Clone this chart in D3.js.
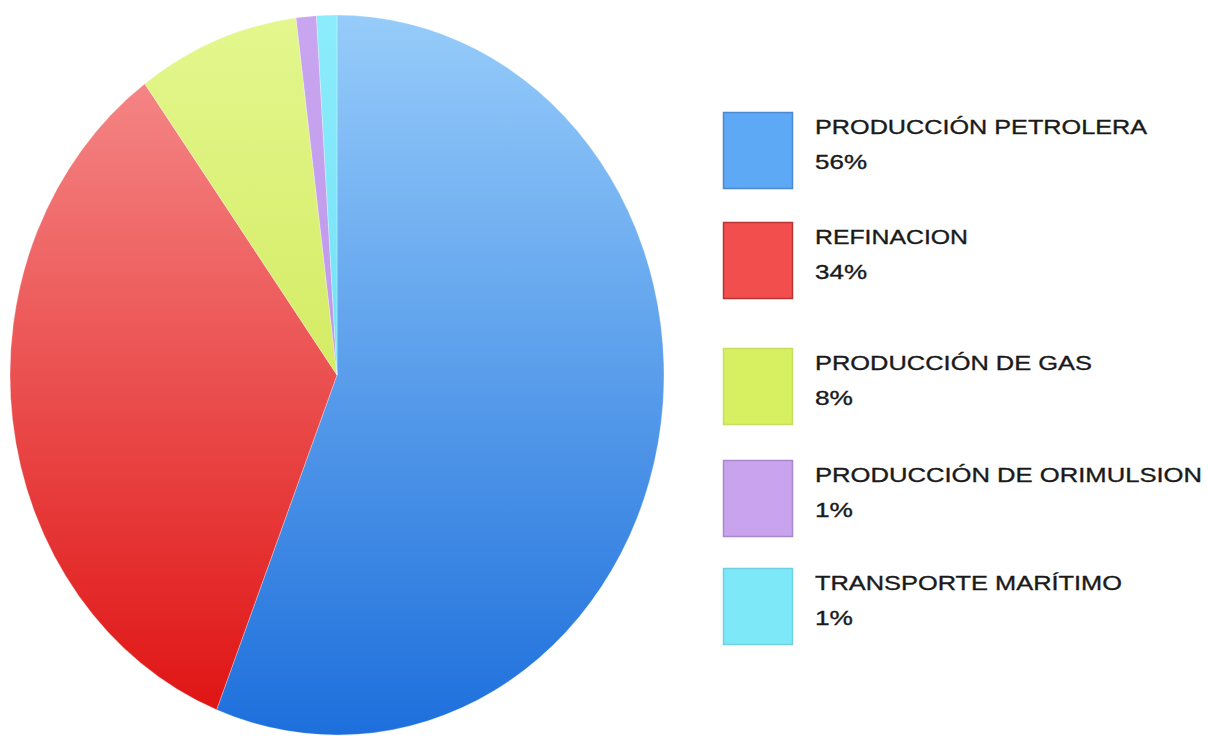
<!DOCTYPE html>
<html><head><meta charset="utf-8">
<script src="https://cdn.jsdelivr.net/npm/d3@7"></script>
<style>html,body{margin:0;padding:0;background:#fff;}svg{display:block;}</style>
</head><body>
<svg id="chart" width="1208" height="736"></svg>
<script>
const categories = ["PRODUCCIÓN PETROLERA","REFINACION","PRODUCCIÓN DE GAS","PRODUCCIÓN DE ORIMULSION","TRANSPORTE MARÍTIMO"];
const values = [56, 34, 8, 1, 1];
const valueLabels = ["56%","34%","8%","1%","1%"];

const topColors = ["#96ccfa","#f79191","#e3f78e","#c9a6f0","#8cecfb"];
const bottomColors = ["#1d6fdc","#df1010","#c6e03a","#b488e6","#5ad8f3"];
const swatchColors = ["#5ea9f6","#f24e4e","#d7f062","#c9a3ee","#7de8f8"];
const swatchBorders = ["#4a88cf","#b83434","#c8dc60","#a888cc","#70d0e0"];

const svg = d3.select("#chart");
const cx = 337, cy = 375, rx = 327, ry = 360;
const defs = svg.append("defs");
categories.forEach((c,i)=>{
  const g = defs.append("linearGradient").attr("id","g"+i)
    .attr("gradientUnits","userSpaceOnUse").attr("x1",0).attr("x2",0).attr("y1",-rx).attr("y2",rx);
  g.append("stop").attr("offset","0%").attr("stop-color",topColors[i]);
  g.append("stop").attr("offset","100%").attr("stop-color",bottomColors[i]);
});

const pie = d3.pie().sort(null).value(d=>d);
const arcs = pie(values);
const arc = d3.arc().innerRadius(0).outerRadius(rx);
const gp = svg.append("g").attr("transform",`translate(${cx},${cy}) scale(1,${ry/rx})`);
gp.selectAll("path").data(arcs).enter().append("path")
  .attr("d",arc)
  .attr("fill",(d,i)=>`url(#g${i})`)
  .attr("stroke","rgba(255,255,255,0.35)")
  .attr("stroke-width",0.8);

// legend
const swX = 723, swW = 70, swH = 77;
const legendY = [112, 222, 348, 460, 568];
const nameW = [332, 153, 277, 387, 307];
const valW = [52, 52, 38, 38, 38];
const lg = svg.append("g");
categories.forEach((c,i)=>{
  const y = legendY[i];
  lg.append("rect").attr("x",swX+0.5).attr("y",y+0.5).attr("width",swW-1).attr("height",swH-1)
    .attr("fill",swatchColors[i]).attr("stroke",swatchBorders[i]).attr("stroke-width",1.5);
  lg.append("text").attr("x",815).attr("y",y+22)
    .attr("font-family","Liberation Sans, Arial, sans-serif").attr("font-size",21).attr("fill","#1a1a1a")
    .attr("stroke","#1a1a1a").attr("stroke-width",0.35)
    .attr("textLength",nameW[i]).attr("lengthAdjust","spacingAndGlyphs").text(c);
  lg.append("text").attr("x",815).attr("y",y+57)
    .attr("font-family","Liberation Sans, Arial, sans-serif").attr("font-size",21).attr("fill","#1a1a1a")
    .attr("stroke","#1a1a1a").attr("stroke-width",0.35)
    .attr("textLength",valW[i]).attr("lengthAdjust","spacingAndGlyphs").text(valueLabels[i]);
});
</script>
</body></html>
